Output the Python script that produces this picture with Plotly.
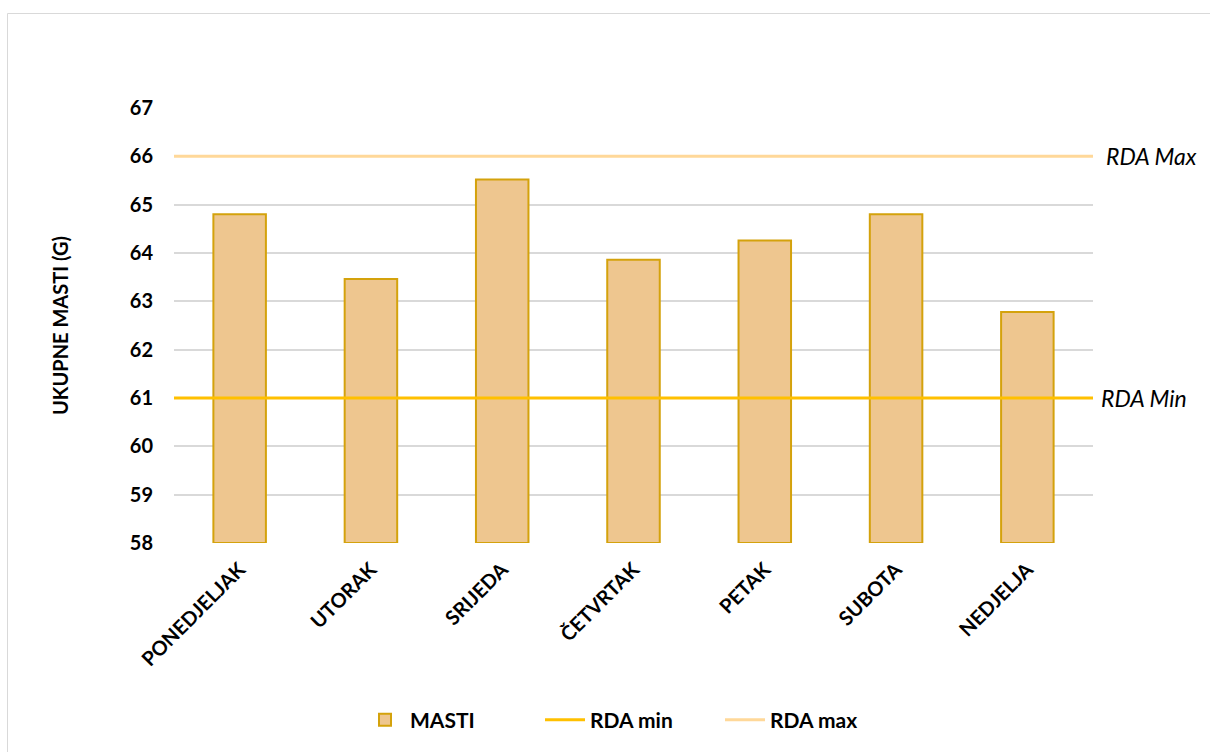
import plotly.graph_objects as go

days = ["PONEDJELJAK", "UTORAK", "SRIJEDA", "ČETVRTAK", "PETAK", "SUBOTA", "NEDJELJA"]
masti = [64.8, 63.46, 65.52, 63.86, 64.26, 64.8, 62.78]
rda_min = 61
rda_max = 66
y_ticks = [58, 59, 60, 61, 62, 63, 64, 65, 66, 67]

FONT = "Lato"
BAR_FILL = "#EEC68F"
BAR_LINE = "#D4A20C"
MIN_COLOR = "#FFC000"
MAX_COLOR = "#FFD899"

fig = go.Figure()

fig.add_trace(go.Bar(
    x=days, y=[v - 58 for v in masti], base=58,
    name="MASTI",
    marker=dict(color=BAR_FILL, line=dict(color=BAR_LINE, width=2)),
    width=0.4,
    hoverinfo="skip",
))

fig.add_trace(go.Scatter(
    x=[0, 1], y=[rda_min, rda_min], xaxis="x2", mode="lines",
    name="RDA min", line=dict(color=MIN_COLOR, width=3),
))
fig.add_trace(go.Scatter(
    x=[0, 1], y=[rda_max, rda_max], xaxis="x2", mode="lines",
    name="RDA max", line=dict(color=MAX_COLOR, width=3),
))

L, R, T, B = 174, 1093, 108, 543
W, H = 1210, 752

def px2paper_x(px):
    return (px - L) / (R - L)

def py2paper_y(py):
    return (B - py) / (B - T)

fig.update_layout(
    width=W, height=H,
    margin=dict(l=L, r=W - R, t=T, b=H - B, pad=0),
    paper_bgcolor="white", plot_bgcolor="white",
    font=dict(family=FONT, color="#000000"),
    showlegend=True,
    legend=dict(
        orientation="h", x=px2paper_x(630), xanchor="center",
        y=py2paper_y(720), yanchor="middle",
        font=dict(family=FONT, size=21, color="#000000", weight="bold"),
        itemwidth=40, traceorder="normal",
        entrywidth=125, entrywidthmode="pixels",
    ),
    xaxis=dict(
        type="category", showgrid=False, zeroline=False, showline=False,
        tickangle=-45, ticks="", ticklabelstandoff=10,
        tickfont=dict(family=FONT, size=20, weight="bold", color="#000000"),
    ),
    xaxis2=dict(overlaying="x", range=[0, 1], visible=False, fixedrange=True),
    yaxis=dict(
        range=[58, 67], tickvals=y_ticks, showgrid=True, gridcolor="#D9D9D9",
        gridwidth=2, zeroline=False, showline=False, ticks="",
        ticklabelstandoff=20,
        tickfont=dict(family=FONT, size=20, weight="bold", color="#000000"),
        title=dict(text="UKUPNE MASTI (G)", standoff=55,
                   font=dict(family=FONT, size=20, weight="bold", color="#000000")),
    ),
    shapes=[dict(
        type="rect", xref="paper", yref="paper",
        x0=px2paper_x(7.5), x1=px2paper_x(1260),
        y0=py2paper_y(800), y1=py2paper_y(13.5),
        line=dict(color="#D9D9D9", width=1), fillcolor="rgba(0,0,0,0)", layer="below",
    )],
    annotations=[
        dict(text="RDA Max", xref="paper", x=px2paper_x(1104), xanchor="left",
             yref="y", y=rda_max, yanchor="middle", showarrow=False,
             font=dict(family=FONT, size=23, style="italic", color="#000000")),
        dict(text="RDA Min", xref="paper", x=px2paper_x(1099), xanchor="left",
             yref="y", y=rda_min, yanchor="middle", showarrow=False,
             font=dict(family=FONT, size=23, style="italic", color="#000000")),
    ],
)

fig.write_html(
    "out.html",
    config={"displayModeBar": False},
    post_script="document.body.style.margin='0';document.body.style.overflow='hidden';",
)
